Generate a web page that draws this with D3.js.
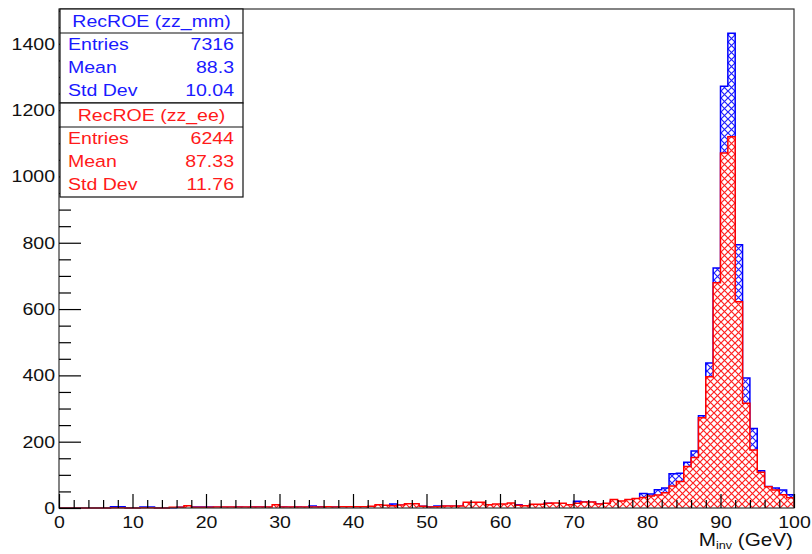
<!DOCTYPE html>
<html>
<head>
<meta charset="utf-8">
<script src="https://cdn.jsdelivr.net/npm/d3@7"></script>
<style>
  body { margin: 0; background: #fff; }
  svg { display: block; font-family: "Liberation Sans", Arial, sans-serif; }
</style>
</head>
<body>
<svg id="chart" width="812" height="554"></svg>
<script>
// bins of 1 GeV from 0 to 100
const binEdges = d3.range(0, 101);

// RecROE (zz_mm)
const mmCounts = [
  0, 0, 0, 0, 0, 0, 0, 4, 4, 0,
  0, 3, 3, 0, 0, 1, 2, 4, 3, 3,
  3, 2, 2, 2, 3, 2, 3, 3, 2, 3,
  3, 2, 3, 2, 6, 4, 3, 3, 4, 4,
  3, 4, 4, 6, 5, 12, 8, 7, 8, 5,
  3, 6, 5, 5, 5, 12, 10, 9, 7, 8,
  9, 7, 10, 6, 8, 8, 14, 12, 12, 9,
  20, 18, 17, 12, 13, 20, 18, 21, 27, 44,
  42, 55, 60, 103, 105, 138, 172, 278, 437, 724,
  1272, 1432, 794, 392, 240, 112, 65, 60, 54, 40
];

// RecROE (zz_ee)
const eeCounts = [
  0, 0, 0, 0, 0, 0, 0, 1, 1, 0,
  0, 1, 1, 0, 0, 2, 2, 7, 2, 2,
  2, 3, 3, 3, 3, 3, 3, 3, 3, 10,
  3, 3, 3, 3, 3, 3, 4, 3, 4, 4,
  4, 4, 5, 10, 8, 7, 9, 13, 13, 5,
  3, 4, 6, 6, 6, 17, 17, 17, 10, 12,
  12, 15, 8, 7, 11, 11, 14, 15, 14, 10,
  14, 18, 18, 12, 14, 26, 21, 26, 29, 32,
  36, 39, 46, 66, 80, 125, 152, 272, 396, 679,
  1071, 1120, 622, 316, 175, 108, 64, 54, 40, 31
];

const statLabels = ["Entries", "Mean", "Std Dev"];
const mmStats = ["7316", "88.3", "10.04"];
const eeStats = ["6244", "87.33", "11.76"];

const yMajor = [0, 200, 400, 600, 800, 1000, 1200, 1400];
const yMinor = d3.range(0, 1501, 50);
const xMajor = d3.range(0, 101, 10);
const xMinor = d3.range(0, 101, 2);

const svg = d3.select("#chart");

const frameL = 59, frameR = 794, frameT = 9, frameB = 508;
const x = d3.scaleLinear().domain([0, 100]).range([frameL, frameR]);
const y = d3.scaleLinear().domain([0, 1505]).range([frameB, frameT]);

const stretch = 1.15; // text in the picture is a bit wide

// hatch patterns, same origin so they lay on top of each other
const defs = svg.append("defs");
function hatch(id, color, bg) {
  const p = defs.append("pattern")
    .attr("id", id)
    .attr("patternUnits", "userSpaceOnUse")
    .attr("width", 7).attr("height", 7);
  if (bg) p.append("rect").attr("width", 7).attr("height", 7).attr("fill", bg);
  p.append("path")
    .attr("d", "M-1,-1L8,8M-1,8L8,-1")
    .attr("stroke", color)
    .attr("stroke-width", 1.2)
    .attr("fill", "none");
}
hatch("hatch-mm", "#2020ff", null);
hatch("hatch-ee", "#ff2020", "#fff");

// histogram as a step line
function stepPath(counts) {
  let pts = [[x(binEdges[0]), y(0)]];
  counts.forEach((c, i) => {
    pts.push([x(binEdges[i]), y(c)]);
    pts.push([x(binEdges[i + 1]), y(c)]);
  });
  pts.push([x(binEdges[binEdges.length - 1]), y(0)]);
  return d3.line()(pts);
}

svg.append("path")
  .attr("d", stepPath(mmCounts))
  .attr("fill", "url(#hatch-mm)")
  .attr("stroke", "#0000ff")
  .attr("stroke-width", 1.5);

svg.append("path")
  .attr("d", stepPath(eeCounts))
  .attr("fill", "url(#hatch-ee)")
  .attr("stroke", "#ff0000")
  .attr("stroke-width", 1.5);

// frame
svg.append("rect")
  .attr("x", frameL).attr("y", frameT)
  .attr("width", frameR - frameL).attr("height", frameB - frameT)
  .attr("fill", "none")
  .attr("stroke", "#333")
  .attr("stroke-width", 1.2);

// y axis: ticks point inwards
svg.append("g")
  .attr("transform", `translate(${frameL},0)`)
  .call(d3.axisLeft(y).tickValues(yMinor.filter(v => !yMajor.includes(v))).tickSize(-12).tickFormat(""))
  .call(g => g.select(".domain").remove());

svg.append("g")
  .attr("transform", `translate(${frameL},0)`)
  .call(d3.axisLeft(y).tickValues(yMajor).tickSize(-22).tickPadding(4).tickFormat(d3.format("d")))
  .call(g => g.select(".domain").remove())
  .call(g => g.selectAll("text")
    .attr("font-size", 17)
    .attr("font-family", "Liberation Sans, Arial, sans-serif")
    .attr("fill", "#111")
    .attr("x", -4 / stretch)
    .attr("transform", `scale(${stretch},1)`));

// x axis
svg.append("g")
  .attr("transform", `translate(0,${frameB})`)
  .call(d3.axisTop(x).tickValues(xMinor.filter(v => !xMajor.includes(v))).tickSize(8).tickFormat(""))
  .call(g => g.select(".domain").remove());

svg.append("g")
  .attr("transform", `translate(0,${frameB})`)
  .call(d3.axisTop(x).tickValues(xMajor).tickSize(14).tickFormat(d3.format("d")))
  .call(g => g.select(".domain").remove())
  .call(g => g.selectAll("text")
    .attr("font-size", 17)
    .attr("font-family", "Liberation Sans, Arial, sans-serif")
    .attr("fill", "#111")
    .attr("y", 20)
    .attr("dy", 0)
    .attr("transform", `scale(${stretch},1)`));

svg.selectAll("g.tick").attr("stroke-width", 1.2);

// x axis title
const xt = svg.append("text")
  .attr("text-anchor", "end")
  .attr("font-size", 18)
  .attr("fill", "#111")
  .attr("transform", `translate(793,546) scale(${stretch},1)`);
xt.append("tspan").text("M");
xt.append("tspan").attr("font-size", 11).attr("dy", 3).text("inv");
xt.append("tspan").attr("dy", -3).text(" (GeV)");

// stats boxes
function statBox(y0, title, values, color) {
  const bx = 60, bw = 183, titleH = 24, rowH = 23;
  const h = titleH + rowH * values.length + 1;
  const g = svg.append("g");
  g.append("rect")
    .attr("x", bx).attr("y", y0).attr("width", bw).attr("height", h)
    .attr("fill", "#fff").attr("stroke", "#111").attr("stroke-width", 1.2);
  g.append("line")
    .attr("x1", bx).attr("x2", bx + bw)
    .attr("y1", y0 + titleH).attr("y2", y0 + titleH)
    .attr("stroke", "#111").attr("stroke-width", 1.2);
  g.append("text")
    .attr("text-anchor", "middle")
    .attr("font-size", 17).attr("fill", color)
    .attr("transform", `translate(${bx + bw / 2},${y0 + 18}) scale(${stretch},1)`)
    .text(title);
  values.forEach((v, i) => {
    const by = y0 + titleH + 17 + i * rowH;
    g.append("text")
      .attr("font-size", 17).attr("fill", color)
      .attr("transform", `translate(${bx + 8},${by}) scale(${stretch},1)`)
      .text(statLabels[i]);
    g.append("text")
      .attr("text-anchor", "end")
      .attr("font-size", 17).attr("fill", color)
      .attr("transform", `translate(${bx + bw - 9},${by}) scale(${stretch},1)`)
      .text(v);
  });
}
statBox(9, "RecROE (zz_mm)", mmStats, "#1a1aff");
statBox(103, "RecROE (zz_ee)", eeStats, "#ff1a1a");
</script>
</body>
</html>
